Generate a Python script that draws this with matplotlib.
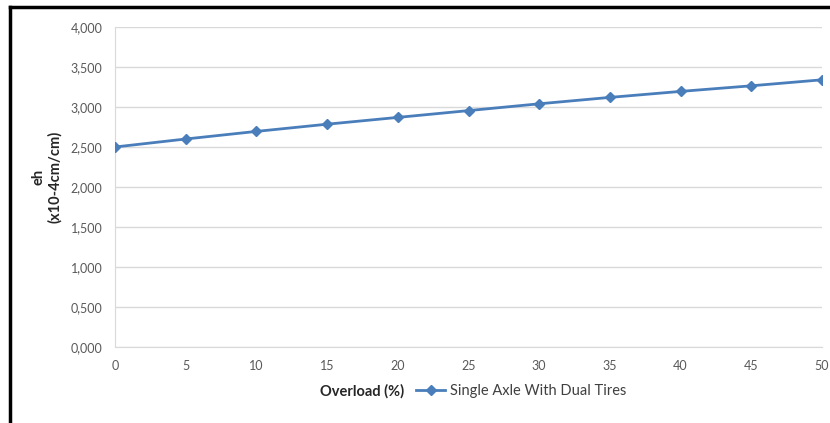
import numpy as np
import matplotlib.pyplot as plt
from matplotlib.lines import Line2D
from matplotlib.ticker import FuncFormatter

# Data
overload = [0, 5, 10, 15, 20, 25, 30, 35, 40, 45, 50]
eh = [2.500, 2.600, 2.695, 2.785, 2.870, 2.955, 3.040, 3.120, 3.195, 3.265, 3.340]
y_ticks = [0, 0.5, 1.0, 1.5, 2.0, 2.5, 3.0, 3.5, 4.0]
series_name = 'Single Axle With Dual Tires'

plt.rcParams['font.family'] = ['Lato', 'DejaVu Sans']

blue = '#4a7ebb'
grey_txt = '#595959'

fig = plt.figure(figsize=(8.3, 4.23), dpi=100)
ax = fig.add_axes([115 / 830, 1 - 347 / 423, (822 - 115) / 830, 320 / 423])

ax.plot(overload, eh, color=blue, lw=2, marker='D', ms=5, zorder=3)

ax.set_xlim(0, 50)
ax.set_ylim(0, 4)
ax.set_xticks(overload)
ax.set_yticks(y_ticks)
ax.yaxis.set_major_formatter(FuncFormatter(lambda v, p: f'{v:.3f}'.replace('.', ',')))
ax.tick_params(length=0, labelsize=9, labelcolor=grey_txt, pad=9)
ax.tick_params(axis='x', pad=9)
ax.grid(axis='y', color='#d9d9d9', lw=1)
ax.set_axisbelow(True)
for s in ['top', 'right']:
    ax.spines[s].set_visible(False)
for s in ['left', 'bottom']:
    ax.spines[s].set_color('#d9d9d9')

# Axis titles
fig.text(47 / 830, 1 - 177 / 423, 'eh\n(x10-4cm/cm)', rotation=90, ha='center', va='center',
         fontsize=10.5, fontweight='bold', color='#262626', linespacing=1.15)
fig.text(362 / 830, 1 - 391 / 423, 'Overload (%)', ha='center', va='center',
         fontsize=10.5, fontweight='bold', color='#262626')

handle = Line2D([], [], color=blue, lw=2, marker='D', ms=5)
fig.legend([handle], [series_name], loc='center left', bbox_to_anchor=(409 / 830, 1 - 391 / 423),
           frameon=False, fontsize=10.5, handlelength=2.0, handletextpad=0.3, borderpad=0,
           labelcolor='#404040')

# Black frame on left and top, as in the original screenshot
fig.add_artist(Line2D([10 / 830, 10 / 830], [0, 1 - 7 / 423], color='black', lw=2.5,
                      transform=fig.transFigure))
fig.add_artist(Line2D([10 / 830, 1], [1 - 7 / 423, 1 - 7 / 423], color='black', lw=2.5,
                      transform=fig.transFigure))

fig.savefig('out.png', dpi=100)
